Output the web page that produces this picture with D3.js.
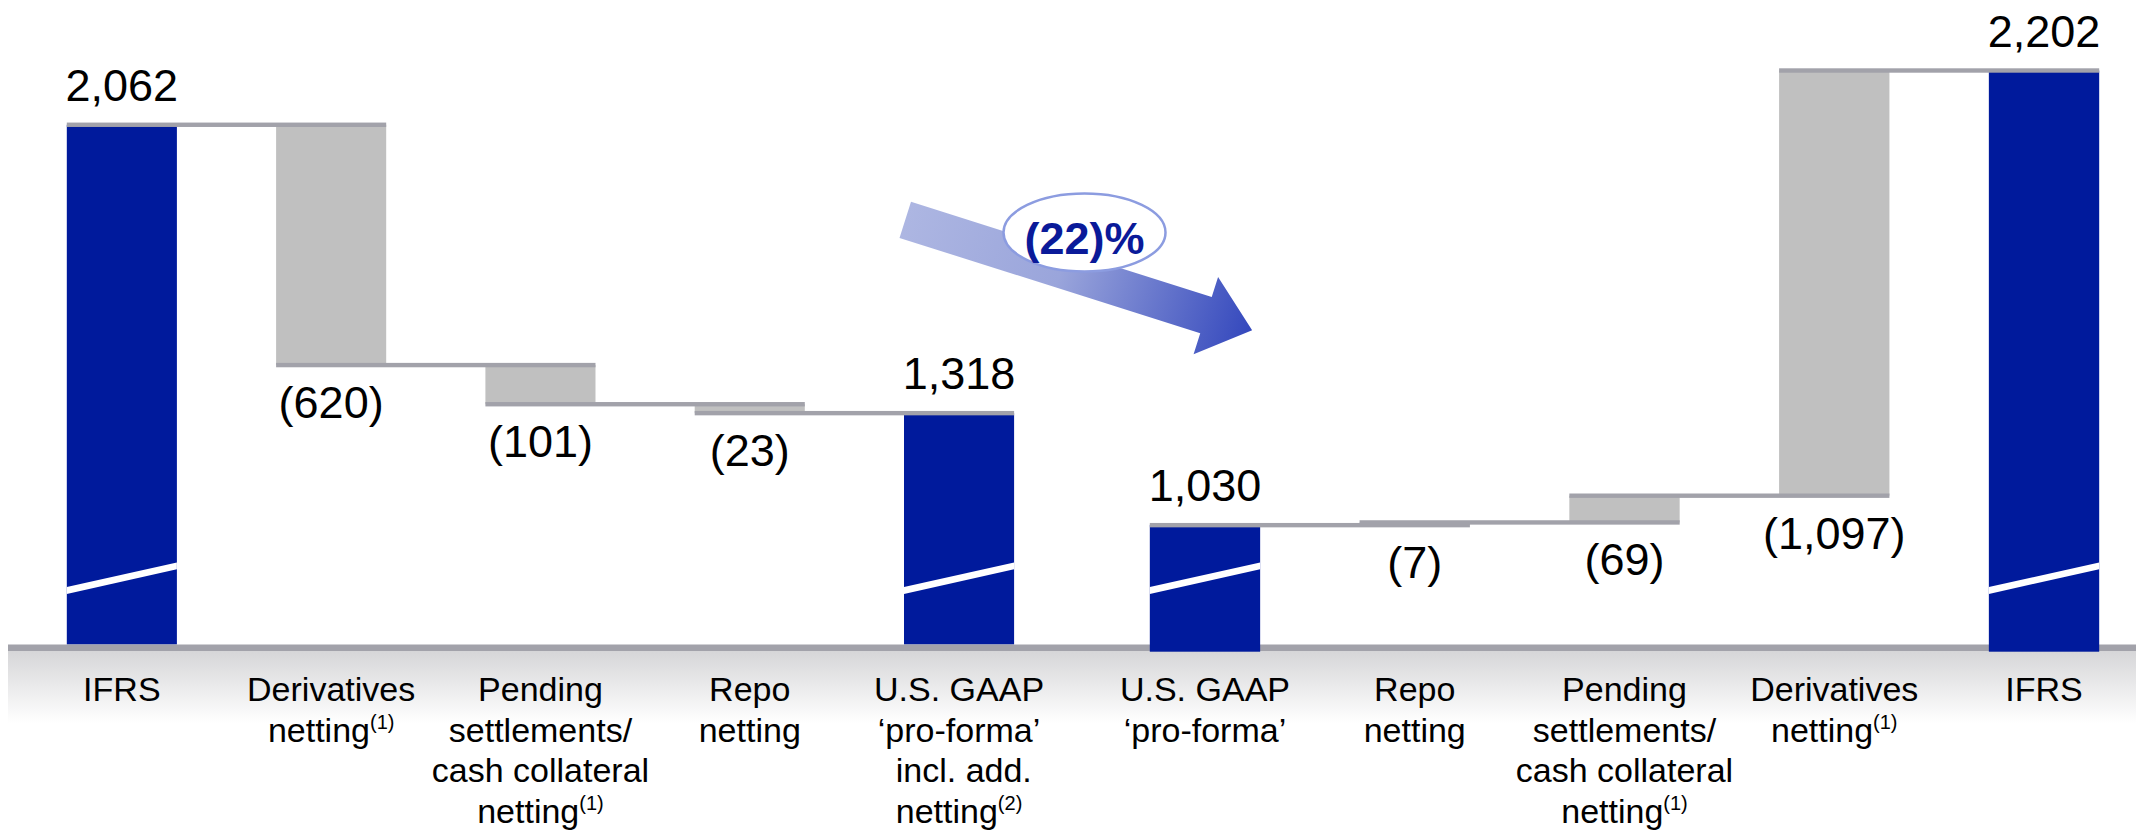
<!DOCTYPE html>
<html><head><meta charset="utf-8">
<script src="https://cdn.jsdelivr.net/npm/d3@7"></script>
<style>html,body{margin:0;padding:0;background:#fff;overflow:hidden}</style>
</head><body><svg id="c" width="2136" height="831"></svg>
<script>
// ---------------- data ----------------
const leftCategories = [
  ["IFRS"],
  ["Derivatives", "netting^(1)"],
  ["Pending", "settlements/", "cash collateral", "netting^(1)"],
  ["Repo", "netting"],
  ["U.S. GAAP", "\u2018pro-forma\u2019", " incl. add.", "netting^(2)"]
];
const leftValues = [2062, -620, -101, -23, 1318];

const rightCategories = [
  ["U.S. GAAP", "\u2018pro-forma\u2019"],
  ["Repo", "netting"],
  ["Pending", "settlements/", "cash collateral", "netting^(1)"],
  ["Derivatives", "netting^(1)"],
  ["IFRS"]
];
const rightValues = [1030, -7, -69, -1097, 2202];

const changeLabel = "(22)%";

// ---------------- setup ----------------
const W = 2136, H = 831;
const svg = d3.select("#c");
const FONT = "'Liberation Sans', Arial, Helvetica, sans-serif";
const BLUE = "#001a9c", GREY_BAR = "#c0c0c0", LINE = "#a2a2aa";
const baseTop = 644.5, baseBottom = 651;

const maxV = d3.max(leftValues.concat(rightValues));
const y = d3.scaleLinear().domain([0, maxV]).range([924, 70.5]);
const xL = d3.scaleBand().domain(d3.range(leftValues.length)).range([17.2, 1063.7]).paddingInner(0.474).paddingOuter(0.237);
const xR = d3.scaleBand().domain(d3.range(rightValues.length)).range([1100.1, 2148.9]).paddingInner(0.474).paddingOuter(0.237);
const fmt = v => v < 0 ? "(" + d3.format(",")(-v) + ")" : d3.format(",")(v);

// left group flows left -> right
function buildLeft(values) {
  let level = values[0];
  const items = values.map((v, i) => {
    if (i === 0 || i === values.length - 1) return { total: true, v, hi: v };
    const hi = level, lo = level + v; level = lo;
    return { total: false, v, hi, lo };
  });
  const bounds = d3.range(values.length - 1).map(i => i === 0 ? items[0].hi : items[i].lo);
  return { items, bounds };
}
// right group flows right -> left (from the IFRS total back to U.S. GAAP)
function buildRight(values) {
  const n = values.length;
  let level = values[n - 1];
  const items = values.map(v => ({ v }));
  items[0] = { total: true, v: values[0], hi: values[0] };
  items[n - 1] = { total: true, v: values[n - 1], hi: values[n - 1] };
  for (let i = n - 2; i >= 1; i--) {
    const hi = level, lo = level + values[i]; level = lo;
    items[i] = { total: false, v: values[i], hi, lo };
  }
  const bounds = d3.range(n - 1).map(i => (i + 1 === n - 1) ? items[n - 1].hi : items[i + 1].lo);
  return { items, bounds };
}
const L = buildLeft(leftValues), R = buildRight(rightValues);

// ---------------- defs ----------------
const defs = svg.append("defs");
const bg = defs.append("linearGradient").attr("id", "band").attr("x1", 0).attr("y1", 0).attr("x2", 0).attr("y2", 1);
bg.append("stop").attr("offset", "0%").attr("stop-color", "#d6d6d8");
bg.append("stop").attr("offset", "100%").attr("stop-color", "#ffffff");
const ag = defs.append("linearGradient").attr("id", "arrowG").attr("x1", 0).attr("y1", 0).attr("x2", 1).attr("y2", 0);
ag.append("stop").attr("offset", "0%").attr("stop-color", "#adb6e2");
ag.append("stop").attr("offset", "45%").attr("stop-color", "#9aa5db");
ag.append("stop").attr("offset", "100%").attr("stop-color", "#3448bd");

// axis band
svg.append("rect").attr("x", 8).attr("y", baseBottom).attr("width", W - 8).attr("height", 72).attr("fill", "url(#band)");

function drawBars(g, grp, x, bottom) {
  grp.items.forEach((d, i) => {
    if (d.total) {
      g.append("rect").attr("x", x(i)).attr("width", x.bandwidth())
        .attr("y", y(d.hi)).attr("height", bottom - y(d.hi)).attr("fill", BLUE);
    } else {
      g.append("rect").attr("x", x(i)).attr("width", x.bandwidth())
        .attr("y", y(d.hi)).attr("height", y(d.lo) - y(d.hi)).attr("fill", GREY_BAR);
    }
  });
}
drawBars(svg.append("g"), L, xL, baseTop);
// baseline
svg.append("rect").attr("x", 8).attr("y", baseTop).attr("width", W - 8).attr("height", baseBottom - baseTop).attr("fill", LINE);
drawBars(svg.append("g"), R, xR, baseBottom + 0.7);

// break slashes on total bars
function slashes(grp, x) {
  grp.items.forEach((d, i) => {
    if (!d.total) return;
    const x0 = x(i), x1 = x(i) + x.bandwidth();
    const yl = baseTop - 54, yr = baseTop - 78.6, t = 3.4;
    svg.append("polygon")
      .attr("points", [[x0, yl + t], [x1, yr + t], [x1, yr - t], [x0, yl - t]].map(p => p.join(",")).join(" "))
      .attr("fill", "#fff");
  });
}
slashes(L, xL); slashes(R, xR);

// connector lines
function connectors(grp, x) {
  grp.bounds.forEach((lv, i) => {
    svg.append("rect").attr("x", x(i)).attr("width", x(i + 1) + x.bandwidth() - x(i))
      .attr("y", y(lv) - 2.2).attr("height", 4.4).attr("fill", LINE);
  });
}
connectors(L, xL); connectors(R, xR);

// value labels
function valueLabels(grp, x) {
  grp.items.forEach((d, i) => {
    const cx = x(i) + x.bandwidth() / 2;
    const yy = d.total ? y(d.hi) - 24 : y(d.lo) + 53;
    svg.append("text").attr("x", cx).attr("y", yy).attr("text-anchor", "middle")
      .attr("font-family", FONT).attr("font-size", 45).attr("fill", "#000").text(fmt(d.v));
  });
}
valueLabels(L, xL); valueLabels(R, xR);

// category labels
function catLabels(cats, x) {
  cats.forEach((lines, i) => {
    const cx = x(i) + x.bandwidth() / 2;
    lines.forEach((ln, j) => {
      const t = svg.append("text").attr("x", cx).attr("y", 701 + j * 40.5).attr("text-anchor", "middle")
        .attr("font-family", FONT).attr("font-size", 34).attr("fill", "#000").attr("xml:space", "preserve");
      const parts = ln.split("^");
      t.append("tspan").text(parts[0]);
      if (parts[1]) t.append("tspan").attr("font-size", 20).attr("dy", -13).text(parts[1]);
    });
  });
}
catLabels(leftCategories, xL); catLabels(rightCategories, xR);

// change arrow annotation
const arrow = svg.append("g").attr("transform", "translate(911,201.7) rotate(17.6)");
arrow.append("polygon")
  .attr("points", [[0, 0], [315.5, 0], [315.5, -21], [364, 19.3], [315.5, 60], [315.5, 38], [0, 38]].map(p => p.join(",")).join(" "))
  .attr("fill", "url(#arrowG)");
svg.append("ellipse").attr("cx", 1084.5).attr("cy", 232.5).attr("rx", 81).attr("ry", 39)
  .attr("fill", "#fff").attr("stroke", "#8c9ce0").attr("stroke-width", 2.5);
svg.append("text").attr("x", 1084.5).attr("y", 253.5).attr("text-anchor", "middle")
  .attr("font-family", FONT).attr("font-weight", "bold").attr("font-size", 45).attr("fill", "#0a1a99").text(changeLabel);
</script>
</body></html>
